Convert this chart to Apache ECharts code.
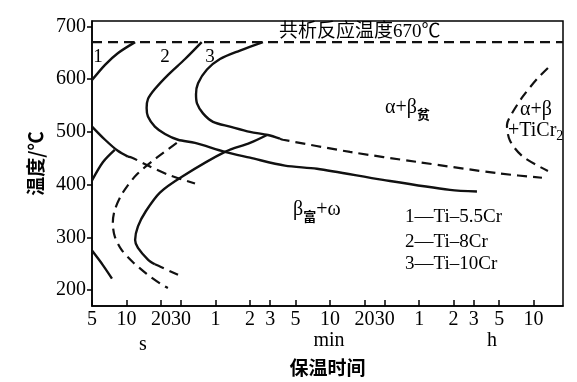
<!DOCTYPE html>
<html><head><meta charset="utf-8">
<script src="https://cdn.jsdelivr.net/npm/echarts@6/dist/echarts.min.js"></script>
<style>html,body{margin:0;padding:0;background:#fff}#c{width:577px;height:382px}</style>
</head><body><div id="c"></div>
<script>
// ---- axis ticks (time in seconds on a log axis) ----
const xTickValues = [5, 10, 20, 30, 60, 120, 180, 300, 600, 1200, 1800, 3600, 7200, 10800, 18000, 36000];
const xTickLabels = ['5', '10', '20', '30', '1', '2', '3', '5', '10', '20', '30', '1', '2', '3', '5', '10'];
const yTickValues = [200, 300, 400, 500, 600, 700];
const eutectoidT = 670;

// ---- curves: [time (s), temperature (°C)] ----
// Ti-5.5Cr (1)
const c1Upper = [[5, 598], [6.5, 627], [8.4, 649], [11.9, 670]];
const c1NoseSolid = [[5, 510], [6.5, 485], [8.4, 464], [10.3, 453]];
const c1NoseDash = [[10.3, 453], [11.2, 451], [15.4, 436], [23.0, 419], [39.7, 402]];
const c1Rise = [[5, 408], [6.24, 443], [7.9, 466]];
const c1Low = [[5, 275], [6.2, 248], [7.47, 222]];
// Ti-8Cr (2)
const c2Upper = [[45.4, 670], [32.5, 638], [23.1, 608], [17.7, 581], [15.4, 562], [15.0, 545], [15.4, 529], [17.7, 510], [21.7, 496], [28.2, 485], [39.7, 479], [72.5, 462], [120, 451], [242, 436], [461, 430], [1740, 409], [6690, 390], [11520, 387]];
const c2LowerDash = [[27.5, 479], [18.4, 451], [12.3, 419], [9.3, 385], [7.9, 352], [7.6, 327], [7.9, 302], [9.1, 276], [11.4, 253], [15.0, 231], [19.6, 213], [23.0, 204]];
// Ti-10Cr (3)
const c3Upper = [[155.6, 670], [98, 654], [65.6, 638], [50.5, 618], [42.2, 592], [40.5, 571], [41.3, 554], [46.6, 535], [57, 519], [80.2, 510], [120, 500], [172, 494], [219, 487]];
const c3UpperDash = [[219, 487], [233, 485], [896, 462], [3446, 443], [18290, 421], [42557, 413]];
const c3Lower = [[169, 494], [120, 479], [72.5, 462], [30.5, 415], [19.6, 385], [14.8, 350], [12.6, 321], [11.9, 295], [12.6, 280], [15.4, 258], [17.7, 249]];
const c3LowerDash = [[17.7, 249], [20.0, 244], [28.2, 229]];
// α+β+TiCr2 boundary
const tiCr2Dash = [[48000, 621], [38500, 600], [29000, 567], [23300, 535], [21060, 513], [22400, 483], [29000, 453], [48000, 426]];

const SERIF = "'Liberation Serif','Noto Sans CJK SC'";
const CJK = "'Noto Sans CJK SC'";
const INK = '#111';

function curve(data, dashed, smooth) {
  return {
    type: 'line', data: data, symbol: 'none', smooth: smooth === undefined ? 0.3 : smooth,
    silent: true, animation: false,
    lineStyle: { color: INK, width: dashed ? 2.2 : 2.4, type: dashed ? [10, 6] : 'solid' }
  };
}

function xLabel(v) {
  let best = 0, bd = Infinity;
  xTickValues.forEach((t, i) => { const d = Math.abs(Math.log(v) - Math.log(t)); if (d < bd) { bd = d; best = i; } });
  return xTickLabels[best];
}

const chart = echarts.init(document.getElementById('c'), null, { renderer: 'canvas' });
chart.setOption({
  animation: false,
  backgroundColor: '#fff',
  grid: { left: 92, right: 14, top: 21, bottom: 76, show: true, borderColor: '#000', borderWidth: 1.5, backgroundColor: 'transparent' },
  xAxis: {
    type: 'log', logBase: 10, min: 5, max: 65000,
    name: '保温时间', nameLocation: 'middle', nameGap: 52,
    nameTextStyle: { fontFamily: CJK, fontSize: 19, fontWeight: 'bold', color: '#000' },
    axisLine: { show: true, lineStyle: { color: '#000', width: 1.5 } },
    axisTick: { show: true, inside: true, length: 6, customValues: xTickValues, lineStyle: { color: '#000', width: 1.5 } },
    minorTick: { show: false },
    axisLabel: { customValues: xTickValues, formatter: xLabel, fontFamily: SERIF, fontSize: 20, color: '#000', margin: 4, hideOverlap: false },
    splitLine: { show: false }, minorSplitLine: { show: false }
  },
  yAxis: {
    type: 'value', min: 170, max: 710,
    name: '温度/℃', nameLocation: 'middle', nameGap: 47,
    nameTextStyle: { fontFamily: CJK, fontSize: 19, fontWeight: 'bold', color: '#000' },
    axisLine: { show: true, lineStyle: { color: '#000', width: 1.5 } },
    axisTick: { show: true, inside: false, length: 5, customValues: yTickValues, lineStyle: { color: '#000', width: 1.5 } },
    axisLabel: { customValues: yTickValues, fontFamily: SERIF, fontSize: 20, color: '#000', margin: 6 },
    splitLine: { show: false }
  },
  series: [
    curve([[5, eutectoidT], [65000, eutectoidT]], true, false),
    curve(c1Upper, false), curve(c1NoseSolid, false), curve(c1NoseDash, true), curve(c1Rise, false), curve(c1Low, false),
    curve(c2Upper, false), curve(c2LowerDash, true),
    curve(c3Upper, false), curve(c3UpperDash, true), curve(c3Lower, false), curve(c3LowerDash, true),
    curve(tiCr2Dash, true)
  ],
  graphic: [
    { type: 'text', style: { x: 279, y: 32, text: '共析反应温度670℃', font: "19px " + SERIF, fill: '#000', textVerticalAlign: 'middle' } },
    { type: 'text', style: { x: 98, y: 57, text: '1', font: "19px " + SERIF, fill: '#000', textAlign: 'center', textVerticalAlign: 'middle' } },
    { type: 'text', style: { x: 165, y: 57, text: '2', font: "19px " + SERIF, fill: '#000', textAlign: 'center', textVerticalAlign: 'middle' } },
    { type: 'text', style: { x: 210, y: 57, text: '3', font: "19px " + SERIF, fill: '#000', textAlign: 'center', textVerticalAlign: 'middle' } },
    { type: 'text', style: { x: 385, y: 108, text: '{a|α+β}{s|贫}', fill: '#000', textVerticalAlign: 'middle',
        rich: { a: { fontFamily: SERIF, fontSize: 20, fill: '#000' }, s: { fontFamily: CJK, fontSize: 13, fontWeight: 'bold', fill: '#000', padding: [12, 0, 0, 0] } } } },
    { type: 'text', style: { x: 520, y: 110, text: 'α+β', font: "20px " + SERIF, fill: '#000', textVerticalAlign: 'middle' } },
    { type: 'text', style: { x: 508, y: 131, text: '{a|+TiCr}{s|2}', fill: '#000', textVerticalAlign: 'middle',
        rich: { a: { fontFamily: SERIF, fontSize: 20, fill: '#000' }, s: { fontFamily: SERIF, fontSize: 14, fill: '#000', padding: [10, 0, 0, 0] } } } },
    { type: 'text', style: { x: 293, y: 210, text: '{a|β}{s|富}{a|+ω}', fill: '#000', textVerticalAlign: 'middle',
        rich: { a: { fontFamily: SERIF, fontSize: 20, fill: '#000' }, s: { fontFamily: CJK, fontSize: 13, fontWeight: 'bold', fill: '#000', padding: [12, 0, 0, 0] } } } },
    { type: 'text', style: { x: 405, y: 217, text: '1—Ti–5.5Cr', font: "19px " + SERIF, fill: '#000', textVerticalAlign: 'middle' } },
    { type: 'text', style: { x: 405, y: 242, text: '2—Ti–8Cr', font: "19px " + SERIF, fill: '#000', textVerticalAlign: 'middle' } },
    { type: 'text', style: { x: 405, y: 264, text: '3—Ti–10Cr', font: "19px " + SERIF, fill: '#000', textVerticalAlign: 'middle' } },
    { type: 'text', style: { x: 143, y: 345, text: 's', font: "20px " + SERIF, fill: '#000', textAlign: 'center', textVerticalAlign: 'middle' } },
    { type: 'text', style: { x: 329, y: 341, text: 'min', font: "20px " + SERIF, fill: '#000', textAlign: 'center', textVerticalAlign: 'middle' } },
    { type: 'text', style: { x: 492, y: 341, text: 'h', font: "20px " + SERIF, fill: '#000', textAlign: 'center', textVerticalAlign: 'middle' } }
  ]
});
</script></body></html>
